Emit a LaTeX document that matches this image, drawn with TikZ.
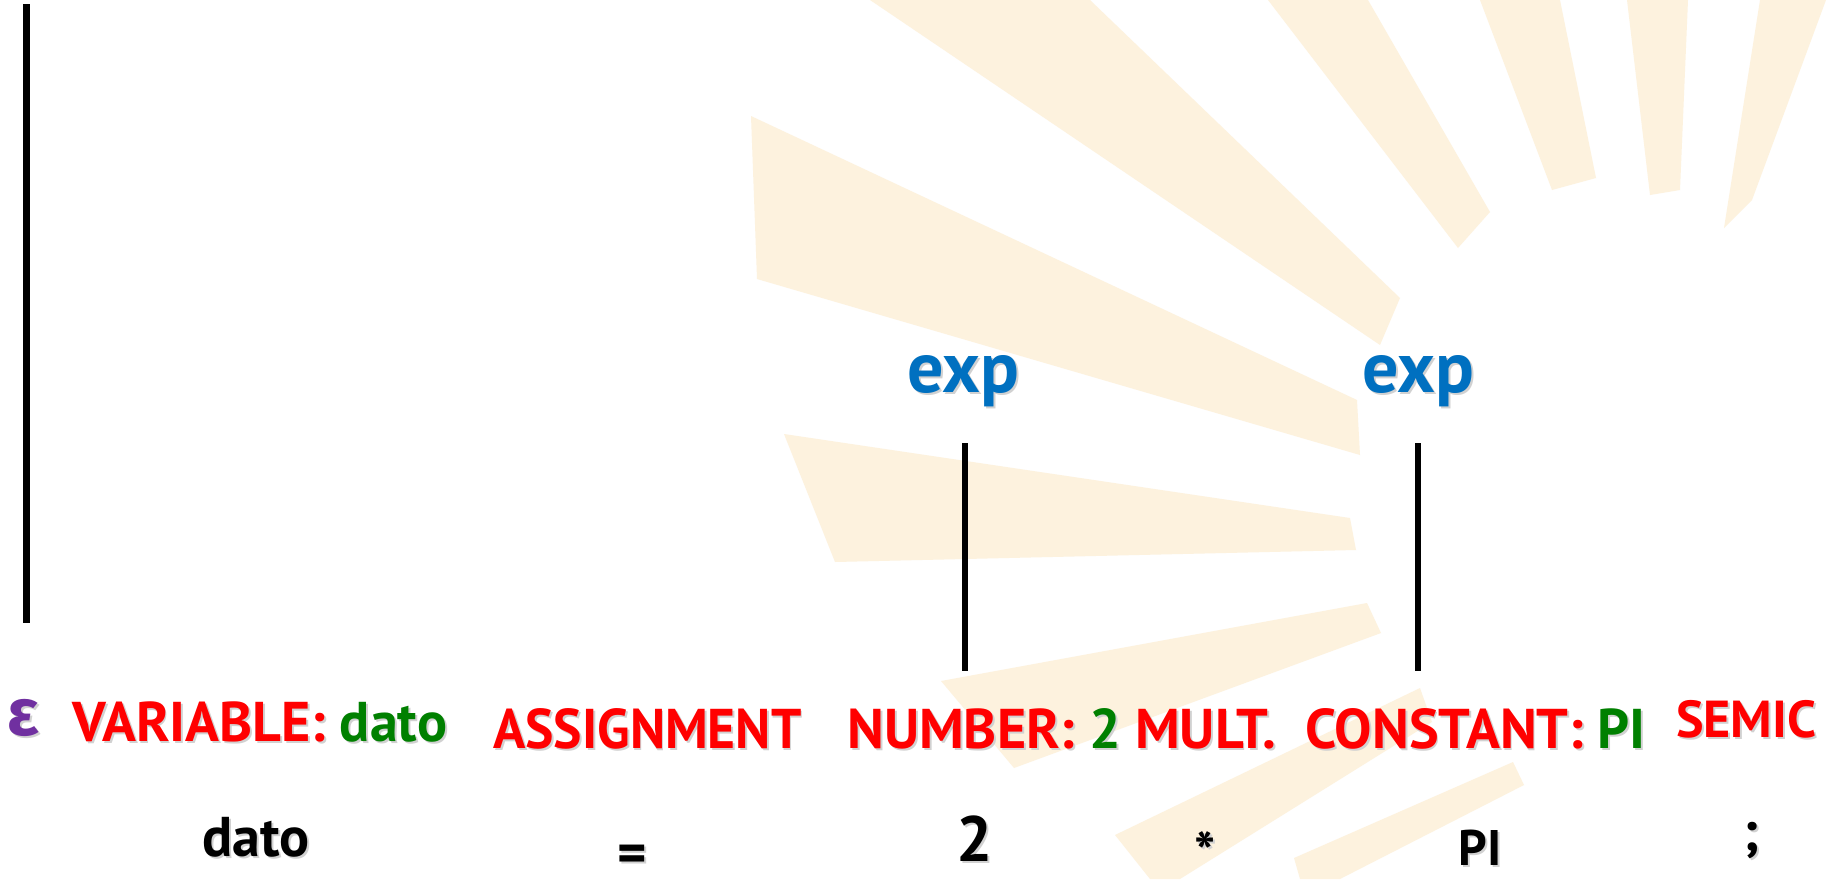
\documentclass[tikz,border=0pt]{standalone}
\usepackage{fontspec}
\usepackage{graphicx}
\setmainfont{PT Sans}
\newfontfamily\epsfont{Fira Sans}
\definecolor{tred}{RGB}{255,0,0}
\definecolor{tgreen}{RGB}{0,128,0}
\definecolor{tblue}{RGB}{0,112,192}
\definecolor{tpurple}{RGB}{112,48,160}
\definecolor{raycol}{RGB}{253,242,222}
\newcommand{\shd}[1]{\leavevmode\rlap{\kern2pt\raisebox{-2pt}{\def\textcolor##1##2{##2}\color{black!18}#1}}#1}
\begin{document}
\begin{tikzpicture}[x=1pt,y=-1pt,
  tok/.style={inner sep=0pt, font=\fontsize{56}{60}\selectfont\bfseries, text=tred},
  semtok/.style={inner sep=0pt, font=\fontsize{52}{56}\selectfont\bfseries, text=tred},
  lex/.style={inner sep=0pt, font=\fontsize{56}{60}\selectfont\bfseries, text=black},
  nterm/.style={inner sep=0pt, font=\fontsize{72}{76}\selectfont\bfseries, text=tblue},
  treeline/.style={line width=6pt, black},
  sunray/.style={fill=raycol, draw=none}]
\useasboundingbox (0,0) rectangle (1826,879);
\fill[white] (0,0) rectangle (1826,879);
% watermark rays
\fill[sunray] (751,116) -- (1357,400) -- (1360,455) -- (757,279) -- cycle;
\fill[sunray] (870,0) -- (1090,0) -- (1400,298) -- (1380,345) -- cycle;
\fill[sunray] (1268,0) -- (1368,0) -- (1490,212) -- (1458,248) -- cycle;
\fill[sunray] (1480,0) -- (1560,0) -- (1596,178) -- (1552,190) -- cycle;
\fill[sunray] (1627,0) -- (1688,0) -- (1680,190) -- (1650,195) -- cycle;
\fill[sunray] (1760,0) -- (1826,0) -- (1752,200) -- (1724,228) -- cycle;
\fill[sunray] (784,434) -- (1350,518) -- (1356,550) -- (835,562) -- cycle;
\fill[sunray] (941,681) -- (1367,603) -- (1381,633) -- (1014,768) -- cycle;
\fill[sunray] (1115,835) -- (1420,688) -- (1432,722) -- (1180,879) -- (1150,879) -- cycle;
\fill[sunray] (1294,858) -- (1513,762) -- (1524,785) -- (1340,879) -- (1300,879) -- cycle;
% token row
\node[inner sep=0pt, font=\fontsize{66}{70}\selectfont\bfseries\epsfont, text=tpurple] (eps) at (23,719) {\shd{ε}};
\node[tok, anchor=base west] (var) at (72,741) {\shd{VARIABLE: \textcolor{tgreen}{dato}}};
\node[tok, anchor=base west] (asg) at (493,748) {\scalebox{0.955}[1]{\shd{ASSIGNMENT}}};
\node[tok, anchor=base west] (num) at (847,748) {\shd{NUMBER: \textcolor{tgreen}{2} MULT.}};
\node[tok, anchor=base west] (cst) at (1305,748) {\shd{CONSTANT: \textcolor{tgreen}{PI}}};
\node[semtok, anchor=base west] (sem) at (1676,737) {\shd{SEMIC}};
% lexemes
\node[lex] (ldato) at (256,838) {\shd{dato}};
\node[lex] (leq) at (632,860) {\shd{=}};
\node[lex, font=\fontsize{64}{68}\selectfont\bfseries] (ltwo) at (975,840) {\shd{2}};
\node[lex] (lstar) at (1205,853) {\shd{*}};
\node[lex, font=\fontsize{50}{54}\selectfont\bfseries] (lpi) at (1480,849) {\shd{PI}};
\node[lex] (lsemi) at (1752,842) {\shd{;}};
% nonterminals
\node[nterm] (exp1) at (963,382) {\shd{exp}};
\node[nterm] (exp2) at (1418,382) {\shd{exp}};
% tree lines
\coordinate (topl) at (26,4);
\coordinate (botl) at (26,623);
\coordinate (e1t) at (965,443);
\coordinate (e1b) at (965,671);
\coordinate (e2t) at (1418,443);
\coordinate (e2b) at (1418,671);
\draw[treeline, line width=7pt] (topl) -- (botl);
\draw[treeline] (e1t) -- (e1b);
\draw[treeline] (e2t) -- (e2b);
\end{tikzpicture}
\end{document}
